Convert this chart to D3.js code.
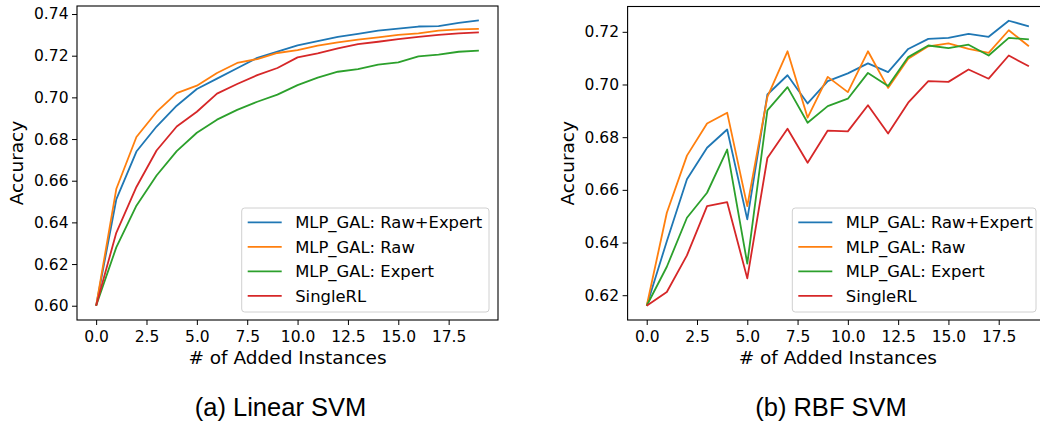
<!DOCTYPE html>
<html>
<head>
<meta charset="utf-8">
<script src="https://cdn.jsdelivr.net/npm/d3@7"></script>
<style>
  body { margin: 0; background: #fff; }
  svg { display: block; font-family: "DejaVu Sans", sans-serif; }
</style>
</head>
<body>
<div id="chart"></div>
<script>
// data
const steps = d3.range(0, 20);

const seriesNames = ["MLP_GAL: Raw+Expert", "MLP_GAL: Raw", "MLP_GAL: Expert", "SingleRL"];
const colors = ["#1f77b4", "#ff7f0e", "#2ca02c", "#d62728"];

// (a) Linear SVM
const linRawExpert = [0.600, 0.651, 0.674, 0.686, 0.696, 0.704, 0.709, 0.714, 0.719, 0.722, 0.725, 0.727, 0.729, 0.7305, 0.732, 0.733, 0.734, 0.7342, 0.7357, 0.737];
const linRaw       = [0.600, 0.656, 0.681, 0.693, 0.702, 0.7056, 0.7117, 0.7165, 0.7184, 0.7213, 0.7227, 0.7248, 0.7264, 0.7277, 0.7288, 0.730, 0.7307, 0.732, 0.7326, 0.7329];
const linExpert    = [0.600, 0.628, 0.648, 0.6625, 0.6742, 0.683, 0.6893, 0.694, 0.6979, 0.7013, 0.7059, 0.7095, 0.7123, 0.7136, 0.7157, 0.7168, 0.7197, 0.7205, 0.7219, 0.7224];
const linSingle    = [0.600, 0.635, 0.657, 0.6745, 0.686, 0.6931, 0.7018, 0.7064, 0.7107, 0.7141, 0.7192, 0.7211, 0.7235, 0.7256, 0.7267, 0.728, 0.729, 0.730, 0.7307, 0.7312];

// (b) RBF SVM
const rbfRawExpert = [0.616, 0.6405, 0.664, 0.676, 0.6829, 0.6488, 0.6962, 0.7035, 0.6928, 0.7013, 0.7042, 0.708, 0.7047, 0.7135, 0.7173, 0.7177, 0.7192, 0.7181, 0.7242, 0.7221];
const rbfRaw       = [0.616, 0.6513, 0.673, 0.6852, 0.6893, 0.6538, 0.6953, 0.7126, 0.6874, 0.7029, 0.6971, 0.7126, 0.6987, 0.7098, 0.7145, 0.7156, 0.7135, 0.712, 0.7206, 0.7145];
const rbfExpert    = [0.616, 0.6308, 0.6494, 0.6589, 0.6753, 0.632, 0.6902, 0.699, 0.6855, 0.6918, 0.6946, 0.7044, 0.6994, 0.7104, 0.7148, 0.7138, 0.7151, 0.711, 0.7177, 0.7171];
const rbfSingle    = [0.616, 0.6212, 0.6351, 0.6538, 0.6553, 0.6264, 0.6721, 0.6832, 0.6703, 0.6825, 0.6822, 0.6921, 0.6814, 0.6931, 0.7013, 0.701, 0.7057, 0.7022, 0.711, 0.7069];

const xTicks = [0, 2.5, 5, 7.5, 10, 12.5, 15, 17.5];
const linYTicks = [0.60, 0.62, 0.64, 0.66, 0.68, 0.70, 0.72, 0.74];
const rbfYTicks = [0.62, 0.64, 0.66, 0.68, 0.70, 0.72];

const W = 1040, H = 423;

const svg = d3.select("#chart").append("svg")
  .attr("width", W)
  .attr("height", H);

function panel(opts) {
  const { left, right, top, bottom, series, yTicks, caption, legendX, legendW } = opts;

  // matplotlib style 5% margins
  const xScale = d3.scaleLinear()
    .domain([-0.95, 19.95])
    .range([left, right]);

  const all = series.flat();
  const lo = d3.min(all), hi = d3.max(all);
  const pad = (hi - lo) * 0.05;
  const yScale = d3.scaleLinear()
    .domain([lo - pad, hi + pad])
    .range([bottom, top]);

  const g = svg.append("g");

  // x axis
  const xAxis = g.append("g")
    .attr("transform", `translate(0, ${bottom})`)
    .call(d3.axisBottom(xScale).tickValues(xTicks).tickFormat(d3.format(".1f"))
      .tickSizeInner(5).tickSizeOuter(0).tickPadding(5.5));
  xAxis.select(".domain").remove();
  xAxis.selectAll("text").attr("font-size", 15.5).attr("fill", "#000").attr("font-family", "DejaVu Sans");
  xAxis.selectAll("line").attr("stroke", "#000");

  // y axis
  const yAxis = g.append("g")
    .attr("transform", `translate(${left}, 0)`)
    .call(d3.axisLeft(yScale).tickValues(yTicks).tickFormat(d3.format(".2f"))
      .tickSizeInner(5).tickSizeOuter(0).tickPadding(3.5));
  yAxis.select(".domain").remove();
  yAxis.selectAll("text").attr("font-size", 15.5).attr("fill", "#000").attr("font-family", "DejaVu Sans");
  yAxis.selectAll("line").attr("stroke", "#000");

  // lines
  const line = d3.line()
    .x((d, i) => xScale(steps[i]))
    .y(d => yScale(d));

  series.forEach((s, k) => {
    g.append("path")
      .datum(s)
      .attr("fill", "none")
      .attr("stroke", colors[k])
      .attr("stroke-width", 1.8)
      .attr("stroke-linejoin", "round")
      .attr("d", line);
  });

  // spines
  g.append("rect")
    .attr("x", left)
    .attr("y", top)
    .attr("width", right - left)
    .attr("height", bottom - top)
    .attr("fill", "none")
    .attr("stroke", "#000")
    .attr("stroke-width", 1.1);

  // axis labels
  g.append("text")
    .attr("x", (left + right) / 2)
    .attr("y", 363.5)
    .attr("text-anchor", "middle")
    .attr("font-size", 18.5)
    .text("# of Added Instances");

  g.append("text")
    .attr("transform", `translate(${left - 54}, ${(top + bottom) / 2}) rotate(-90)`)
    .attr("text-anchor", "middle")
    .attr("font-size", 18.5)
    .text("Accuracy");

  // legend
  const ly = 208, lh = 104;
  const leg = g.append("g");
  leg.append("rect")
    .attr("x", legendX)
    .attr("y", ly)
    .attr("width", legendW)
    .attr("height", lh)
    .attr("rx", 3)
    .attr("fill", "#fff")
    .attr("fill-opacity", 0.8)
    .attr("stroke", "#d0d0d0")
    .attr("stroke-width", 1);

  seriesNames.forEach((name, k) => {
    const cy = 222.3 + k * 24.5;
    leg.append("line")
      .attr("x1", legendX + 6)
      .attr("x2", legendX + 40)
      .attr("y1", cy)
      .attr("y2", cy)
      .attr("stroke", colors[k])
      .attr("stroke-width", 1.8);
    leg.append("text")
      .attr("x", legendX + 53.5)
      .attr("y", cy + 6)
      .attr("font-size", 16.4)
      .text(name);
  });

  // caption under the panel
  svg.append("text")
    .attr("x", opts.captionX)
    .attr("y", 416)
    .attr("text-anchor", "middle")
    .attr("font-family", "Liberation Sans, Arial, sans-serif")
    .attr("font-size", 25.5)
    .text(caption);
}

panel({
  left: 77, right: 498, top: 6, bottom: 320,
  series: [linRawExpert, linRaw, linExpert, linSingle],
  yTicks: linYTicks,
  caption: "(a) Linear SVM", captionX: 280.5,
  legendX: 241.7, legendW: 247.3
});

panel({
  left: 627.6, right: 1048, top: 6.5, bottom: 320,
  series: [rbfRawExpert, rbfRaw, rbfExpert, rbfSingle],
  yTicks: rbfYTicks,
  caption: "(b) RBF SVM", captionX: 831,
  legendX: 792.3, legendW: 243.7
});
</script>
</body>
</html>
